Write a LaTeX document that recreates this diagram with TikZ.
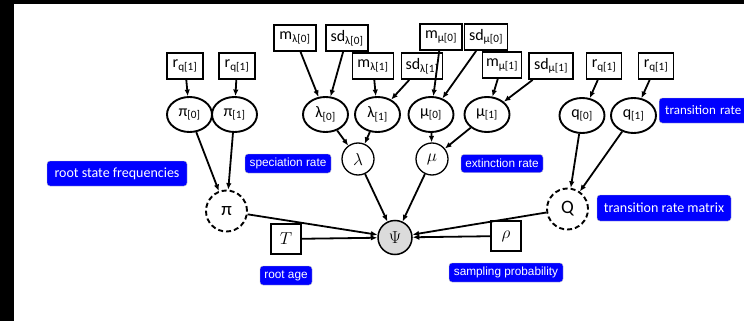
\documentclass[tikz,border=0pt]{standalone}
\usepackage{fontspec}
\setmainfont{Carlito}
\newfontfamily\arialf{Liberation Sans}
\usetikzlibrary{shapes.geometric,arrows.meta}
\begin{document}
\begin{tikzpicture}[x=1pt,y=-1pt,
  hyper/.style={draw,line width=1.9pt,inner sep=1pt,minimum height=26pt,font=\fontsize{16}{16}\selectfont},
  ell/.style={draw,ellipse,line width=1.9pt,minimum width=45pt,minimum height=35pt,inner sep=0pt,font=\fontsize{16}{16}\selectfont},
  dcirc/.style={draw,circle,dashed,dash pattern=on 5pt off 3pt,line width=1.9pt,minimum size=41pt,inner sep=0pt,font=\fontsize{19}{19}\selectfont},
  mcirc/.style={draw,circle,line width=1.3pt,minimum size=32pt,inner sep=0pt,font=\fontsize{17}{17}\selectfont},
  cbox/.style={draw,line width=1.3pt,minimum size=30pt,inner sep=0pt,font=\fontsize{17}{17}\selectfont},
  blab/.style={fill=blue,draw=gray!50,line width=0.4pt,rounded corners=3pt,text=white,inner sep=0pt},
  clab/.style={blab,font=\fontsize{14}{14}\selectfont},
  alab/.style={blab,font=\arialf\fontsize{11.8}{11.8}\selectfont},
  arr/.style={-{Latex[length=6.5pt,width=5.5pt]},line width=1.8pt},
]
\useasboundingbox (0,0) rectangle (744,321);
\fill[black] (0,0) rectangle (744,4.5);
\fill[black] (0,0) rectangle (14,321);

% hyperparameter boxes
\node[hyper,minimum width=36pt] (rq1) at (185,66) {r\textsubscript{q[1]}};
\node[hyper,minimum width=36pt] (rq2) at (237,66) {r\textsubscript{q[1]}};
\node[hyper,minimum width=42pt] (ml0) at (295,38) {m\textsubscript{λ[0]}};
\node[hyper,minimum width=42pt] (sl0) at (347,38) {sd\textsubscript{λ[0]}};
\node[hyper,minimum width=41pt] (ml1) at (373,66) {m\textsubscript{λ[1]}};
\node[hyper,minimum width=41pt] (sl1) at (422,66) {sd\textsubscript{λ[1]}};
\node[hyper,minimum width=42pt] (mm0) at (441,37) {m\textsubscript{μ[0]}};
\node[hyper,minimum width=43pt] (sm0) at (486,37) {sd\textsubscript{μ[0]}};
\node[hyper,minimum width=39pt] (mm1) at (502,65) {m\textsubscript{μ[1]}};
\node[hyper,minimum width=44pt] (sm1) at (551,66) {sd\textsubscript{μ[1]}};
\node[hyper,minimum width=35pt] (rq3) at (604,66) {r\textsubscript{q[1]}};
\node[hyper,minimum width=35pt] (rq4) at (656,66) {r\textsubscript{q[1]}};

% ellipses
\node[ell] (p0) at (189.5,114.5) {π\textsubscript{[0]}};
\node[ell] (p1) at (234.5,114.5) {π\textsubscript{[1]}};
\node[ell] (l0) at (325.5,114.5) {λ\textsubscript{[0]}};
\node[ell] (l1) at (377.5,114.5) {λ\textsubscript{[1]}};
\node[ell] (u0) at (431,114.5) {μ\textsubscript{[0]}};
\node[ell] (u1) at (487,114.5) {μ\textsubscript{[1]}};
\node[ell] (q0) at (582,115.5) {q\textsubscript{[0]}};
\node[ell] (q1) at (633.5,115.5) {q\textsubscript{[1]}};

% deterministic / stochastic
\node[dcirc] (pi) at (226.5,211) {π};
\node[dcirc] (Q) at (567.5,209) {Q};
\node[mcirc] (lam) at (358,159) {$\lambda$};
\node[mcirc] (mu) at (432,159) {$\mu$};
\node[mcirc,fill=black!14,minimum size=34pt,line width=1.5pt] (psi) at (395,237.5) {$\Psi$};
\node[cbox] (T) at (286,239) {$T$};
\node[cbox] (rho) at (506,236) {$\rho$};

% labels
\node[clab,minimum width=140pt,minimum height=25pt] (lrs) at (117,173.5) {root state frequencies};
\node[alab,minimum width=86pt,minimum height=19pt] (lsp) at (288,163.5) {speciation rate};
\node[alab,minimum width=82pt,minimum height=18pt] (lex) at (502,163.5) {extinction rate};
\node[alab,minimum width=52pt,minimum height=19pt] (lra) at (286,275.5) {root age};
\node[alab,minimum width=114pt,minimum height=19pt] (lsa) at (506,272.5) {sampling probability};
\node[clab,minimum width=134pt,minimum height=26pt] (ltm) at (664,208) {transition rate matrix};
\node[clab,font=\fontsize{13}{13}\selectfont,minimum height=25pt,anchor=west,text width=80pt,inner xsep=6pt] (ltr) at (659,110.5) {transition rate};

% edges
\draw[arr] (rq1) -- (p0);
\draw[arr] (rq2) -- (p1);
\draw[arr] (ml0) -- (l0);
\draw[arr] (sl0) -- (l0);
\draw[arr] (ml1) -- (l1);
\draw[arr] (sl1) -- (l1);
\draw[arr] (mm0) -- (u0);
\draw[arr] (sm0) -- (u0);
\draw[arr] (mm1) -- (u1);
\draw[arr] (sm1) -- (u1);
\draw[arr] (rq3) -- (q0);
\draw[arr] (rq4) -- (q1);
\draw[arr] (p0) -- (pi);
\draw[arr] (p1) -- (pi);
\draw[arr] (l0) -- (lam);
\draw[arr] (l1) -- (lam);
\draw[arr] (u0) -- (mu);
\draw[arr] (u1) -- (mu);
\draw[arr] (q0) -- (Q);
\draw[arr] (q1) -- (Q);
\draw[arr] (pi) -- (psi);
\draw[arr] (lam) -- (psi);
\draw[arr] (mu) -- (psi);
\draw[arr] (Q) -- (psi);
\draw[arr] (T) -- (psi);
\draw[arr] (rho) -- (psi);
\end{tikzpicture}
\end{document}
